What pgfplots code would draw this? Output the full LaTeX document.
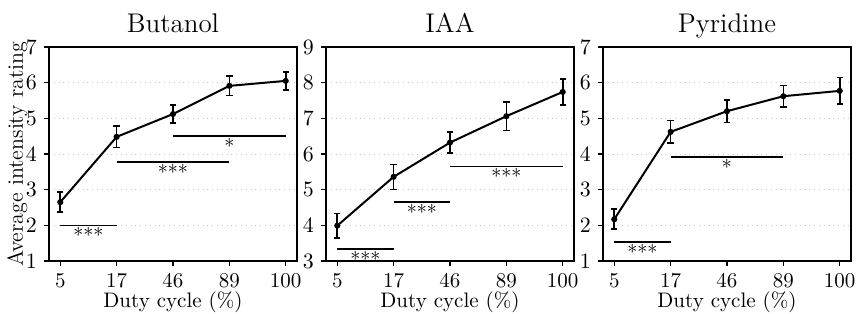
\documentclass[border=0pt]{standalone}
\usepackage{pgfplots}
\pgfplotsset{compat=1.18}
\tikzset{
  sigstar/.style={anchor=north, inner sep=1pt, font=\normalsize},
}
\pgfplotsset{
  panel/.style={
    scale only axis, width=124pt, height=107pt,
    xmin=-0.2, xmax=4.2,
    xtick={0,1,2,3,4}, xticklabels={5,17,46,89,100},
    ytick distance=1,
    tick pos=left, tick align=outside, major tick length=2.5pt,
    tick style={black, line width=0.6pt},
    axis line style={black, line width=0.8pt},
    ymajorgrids, grid style={dotted, gray!45, line width=0.4pt},
    tick label style={font=\fontsize{10.5}{12}\selectfont},
    xlabel={Duty cycle (\%)},
    xlabel style={at={(axis description cs:0.5,0)}, anchor=base, yshift=-23.5pt, font=\fontsize{10.5}{12}\selectfont},
    title style={at={(axis description cs:0.5,1)}, anchor=base, yshift=1pt, font=\fontsize{13.5}{15}\selectfont},
    clip=false,
  },
  meanline/.style={black, line width=1pt, mark=*, mark size=1pt,
    error bars/.cd, y dir=both, y explicit,
    error bar style={line width=0.8pt},
    error mark options={rotate=90, mark size=1.6pt, line width=0.8pt}},
  sig/.style={black, line width=0.7pt, no marks, forget plot},
}
\begin{document}
\begin{tikzpicture}
\begin{axis}[panel, at={(0pt,0pt)}, anchor=south west, ymin=1, ymax=7,
  title={Butanol}, ylabel={Average intensity rating},
  ylabel style={at={(axis description cs:0,0.5)}, anchor=base, yshift=13pt, font=\fontsize{11}{13}\selectfont}]
\addplot[meanline] coordinates {
  (0,2.65) +- (0,0.28)
  (1,4.48) +- (0,0.30)
  (2,5.12) +- (0,0.25)
  (3,5.91) +- (0,0.27)
  (4,6.05) +- (0,0.25)
};
\addplot[sig] coordinates {(0,2.0) (1,2.0)};
\addplot[sig] coordinates {(1,3.77) (3,3.77)};
\addplot[sig] coordinates {(2,4.5) (4,4.5)};
\node[sigstar] at (axis cs:0.5,2.0) {***};
\node[sigstar] at (axis cs:2,3.77) {***};
\node[sigstar] at (axis cs:3,4.5) {*};
\end{axis}
\begin{axis}[panel, at={(138.5pt,0pt)}, anchor=south west, ymin=3, ymax=9,
  title={IAA}]
\addplot[meanline] coordinates {
  (0,3.99) +- (0,0.34)
  (1,5.36) +- (0,0.35)
  (2,6.32) +- (0,0.30)
  (3,7.06) +- (0,0.40)
  (4,7.74) +- (0,0.36)
};
\addplot[sig] coordinates {(0,3.34) (1,3.34)};
\addplot[sig] coordinates {(1,4.65) (2,4.65)};
\addplot[sig] coordinates {(2,5.65) (4,5.65)};
\node[sigstar] at (axis cs:0.5,3.34) {***};
\node[sigstar] at (axis cs:1.5,4.65) {***};
\node[sigstar] at (axis cs:3,5.65) {***};
\end{axis}
\begin{axis}[panel, at={(277pt,0pt)}, anchor=south west, ymin=1, ymax=7,
  title={Pyridine}]
\addplot[meanline] coordinates {
  (0,2.17) +- (0,0.28)
  (1,4.62) +- (0,0.32)
  (2,5.20) +- (0,0.32)
  (3,5.62) +- (0,0.30)
  (4,5.77) +- (0,0.37)
};
\addplot[sig] coordinates {(0,1.53) (1,1.53)};
\addplot[sig] coordinates {(1,3.92) (3,3.92)};
\node[sigstar] at (axis cs:0.5,1.53) {***};
\node[sigstar] at (axis cs:2,3.92) {*};
\end{axis}
\pgfresetboundingbox
\path[use as bounding box] (-24.5pt,-26.5pt) rectangle (405pt,130.5pt);
\end{tikzpicture}
\end{document}
